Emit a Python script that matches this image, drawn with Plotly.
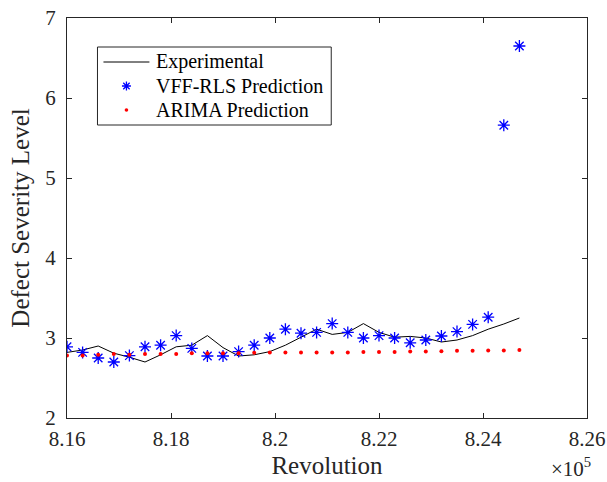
import plotly.graph_objects as go

# Revolution counts (one sample every 300 revolutions)
revolution = [816000 + 300 * k for k in range(30)]

experimental = [2.82, 2.85, 2.90, 2.81, 2.76, 2.70, 2.79, 2.89, 2.91, 3.03,
                2.88, 2.775, 2.79, 2.83, 2.91, 3.01, 3.11, 3.045, 3.07, 3.18,
                3.07, 3.01, 3.02, 3.00, 2.95, 2.975, 3.03, 3.11, 3.175, 3.25]

vff_rls = [2.89, 2.82, 2.75, 2.70, 2.78, 2.89, 2.91, 3.03, 2.87, 2.775,
           2.775, 2.83, 2.91, 3.00, 3.11, 3.06, 3.07, 3.18, 3.07, 3.00,
           3.03, 3.00, 2.94, 2.975, 3.025, 3.08, 3.17, 3.26, 5.66, 6.65]

arima = [2.78, 2.78, 2.79, 2.80, 2.79, 2.80, 2.80, 2.80, 2.81, 2.81,
         2.81, 2.81, 2.815, 2.82, 2.82, 2.82, 2.82, 2.82, 2.82, 2.825,
         2.825, 2.825, 2.83, 2.83, 2.835, 2.84, 2.84, 2.845, 2.845, 2.85]

series_names = ["Experimental", "VFF-RLS Prediction", "ARIMA Prediction"]

x_ticks = [816000, 818000, 820000, 822000, 824000, 826000]
x_tick_text = ["8.16", "8.18", "8.2", "8.22", "8.24", "8.26"]
y_ticks = [2, 3, 4, 5, 6, 7]

FONT = "Liberation Serif, Times New Roman, serif"
INK = "#262626"
BLUE = "#0000ff"
RED = "#ff0000"

W, H = 607, 482
ML, MR, MT, MB = 66.5, 20, 18, 64
PW, PH = W - ML - MR, H - MT - MB


def px_x(px):
    """Page pixel column -> paper x fraction."""
    return (px - ML) / PW


def px_y(py):
    """Page pixel row -> paper y fraction."""
    return (H - MB - py) / PH


fig = go.Figure()
fig.add_trace(go.Scatter(
    x=revolution, y=experimental, mode="lines", name=series_names[0],
    line=dict(color="#000000", width=1), showlegend=False))
fig.add_trace(go.Scatter(
    x=revolution, y=vff_rls, mode="markers", name=series_names[1],
    marker=dict(symbol="asterisk-open", size=10, color=BLUE,
                line=dict(color=BLUE, width=1.3)), showlegend=False))
fig.add_trace(go.Scatter(
    x=revolution, y=arima, mode="markers", name=series_names[2],
    marker=dict(symbol="circle", size=4, color=RED, line=dict(width=0)),
    showlegend=False))

axis_common = dict(
    showline=True, linecolor=INK, linewidth=1, mirror="ticks",
    ticks="inside", ticklen=5, tickwidth=1, tickcolor=INK,
    showgrid=False, zeroline=False, automargin=False,
    tickfont=dict(family=FONT, size=21, color=INK),
)

fig.update_layout(
    width=W, height=H,
    margin=dict(l=ML, r=MR, t=MT, b=MB),
    paper_bgcolor="white", plot_bgcolor="white",
    font=dict(family=FONT, color=INK),
    showlegend=False,
    xaxis=dict(range=[816000, 826000], tickvals=x_ticks, ticktext=x_tick_text,
               ticklabelstandoff=2,
               title=dict(text="Revolution", font=dict(family=FONT, size=25, color=INK),
                          standoff=6),
               **axis_common),
    yaxis=dict(range=[2, 7], tickvals=y_ticks, ticklabelstandoff=6,
               title=dict(text="Defect Severity Level",
                          font=dict(family=FONT, size=25, color=INK), standoff=8),
               **axis_common),
)

# Legend box drawn as layout shapes + text
box_l, box_r, box_t, box_b = 97, 331, 47, 125
rows = [62, 86, 110]
sample_x0, sample_x1, text_x = 103, 149, 154
sample_cx = (sample_x0 + sample_x1) / 2

fig.add_shape(type="rect", xref="paper", yref="paper",
              x0=px_x(box_l), x1=px_x(box_r), y0=px_y(box_b), y1=px_y(box_t),
              line=dict(color=INK, width=1), fillcolor="white", layer="above")
fig.add_shape(type="line", xref="paper", yref="paper",
              x0=px_x(sample_x0), x1=px_x(sample_x1),
              y0=px_y(rows[0]), y1=px_y(rows[0]),
              line=dict(color="#000000", width=1), layer="above")

# asterisk glyph for the VFF-RLS entry
r, rd = 4.5, 3.2
cx, cy = sample_cx, rows[1]
segs = [((cx - r, cy), (cx + r, cy)), ((cx, cy - r), (cx, cy + r)),
        ((cx - rd, cy - rd), (cx + rd, cy + rd)), ((cx - rd, cy + rd), (cx + rd, cy - rd))]
path = " ".join(f"M{px_x(a[0]):.5f},{px_y(a[1]):.5f} L{px_x(b[0]):.5f},{px_y(b[1]):.5f}"
                for a, b in segs)
fig.add_shape(type="path", xref="paper", yref="paper", path=path,
              line=dict(color=BLUE, width=1.3), layer="above")

# dot glyph for the ARIMA entry
dr = 1.8
fig.add_shape(type="circle", xref="paper", yref="paper",
              x0=px_x(sample_cx - dr), x1=px_x(sample_cx + dr),
              y0=px_y(rows[2] + dr), y1=px_y(rows[2] - dr),
              fillcolor=RED, line=dict(width=0), layer="above")

for name, row in zip(series_names, rows):
    fig.add_annotation(xref="paper", yref="paper", x=px_x(text_x), y=px_y(row),
                       xanchor="left", yanchor="middle", text=name, showarrow=False,
                       font=dict(family=FONT, size=20, color="#000000"))

fig.add_annotation(
    xref="paper", yref="paper", x=1.012, y=px_y(467), xanchor="right", yanchor="middle",
    text="×10<sup>5</sup>", showarrow=False,
    font=dict(family=FONT, size=21, color=INK))

fig.write_html("out.html")
